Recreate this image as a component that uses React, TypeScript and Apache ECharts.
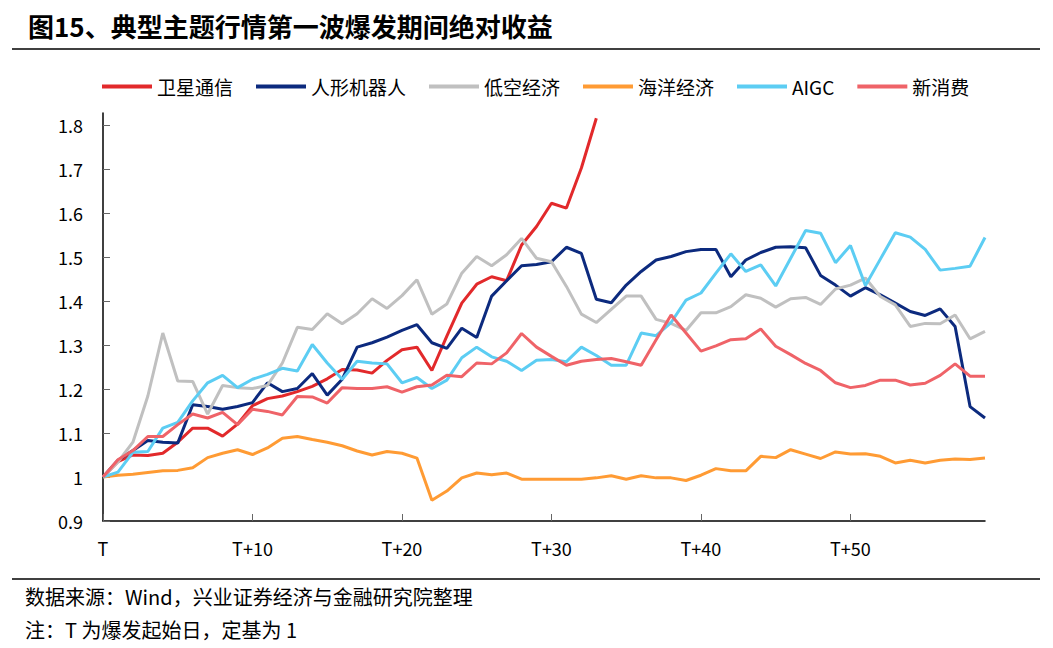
import React, { useEffect, useRef } from "react";
import * as echarts from "echarts";

const categories: string[] = Array.from({ length: 60 }, (_, i) => (i === 0 ? "T" : "T+" + i));

const weixing: (number | null)[] = [
  1.0, 1.035, 1.05, 1.049, 1.054, 1.079, 1.111, 1.111, 1.093, 1.12, 1.162, 1.178, 1.184, 1.194, 1.206,
  1.223, 1.244, 1.243, 1.236, 1.265, 1.289, 1.295, 1.242, 1.32, 1.395, 1.438, 1.455, 1.446, 1.527,
  1.569, 1.622, 1.611, 1.702, 1.815,
];
const renxing: number[] = [
  1.0, 1.038, 1.06, 1.083, 1.079, 1.077, 1.164, 1.16, 1.154, 1.16, 1.169, 1.214, 1.194, 1.201, 1.235,
  1.186, 1.222, 1.295, 1.305, 1.318, 1.333, 1.346, 1.305, 1.292, 1.338, 1.317, 1.411, 1.446, 1.48,
  1.483, 1.489, 1.522, 1.508, 1.404, 1.396, 1.436, 1.467, 1.493, 1.501, 1.512, 1.517, 1.517, 1.455,
  1.493, 1.51, 1.522, 1.523, 1.521, 1.458, 1.436, 1.411, 1.43, 1.414, 1.395, 1.376, 1.367, 1.382,
  1.342, 1.16, 1.134,
];
const dikong: number[] = [
  1.0, 1.034, 1.079, 1.184, 1.327, 1.218, 1.217, 1.143, 1.208, 1.203, 1.201, 1.208, 1.259, 1.34, 1.335,
  1.371, 1.348, 1.371, 1.405, 1.383, 1.412, 1.448, 1.37, 1.393, 1.463, 1.501, 1.48, 1.505, 1.542,
  1.497, 1.489, 1.433, 1.37, 1.351, 1.381, 1.411, 1.411, 1.358, 1.349, 1.333, 1.373, 1.373, 1.387,
  1.414, 1.406, 1.386, 1.405, 1.408, 1.392, 1.427, 1.436, 1.452, 1.41, 1.391, 1.342, 1.349, 1.348,
  1.368, 1.314, 1.331,
];
const haiyang: number[] = [
  1.0, 1.004, 1.006, 1.01, 1.014, 1.015, 1.021, 1.044, 1.054, 1.062, 1.051, 1.066, 1.088, 1.092, 1.085,
  1.079, 1.071, 1.059, 1.05, 1.058, 1.054, 1.043, 0.947, 0.968, 0.998, 1.009, 1.005, 1.009, 0.995,
  0.995, 0.995, 0.995, 0.995, 0.998, 1.003, 0.995, 1.003, 0.998, 0.998, 0.992, 1.004, 1.019, 1.014,
  1.014, 1.047, 1.044, 1.062, 1.052, 1.042, 1.057, 1.052, 1.053, 1.047, 1.032, 1.038, 1.032, 1.038,
  1.041, 1.04, 1.043,
];
const aigc: number[] = [
  1.0, 1.011, 1.056, 1.058, 1.111, 1.124, 1.173, 1.214, 1.231, 1.203, 1.222, 1.233, 1.247, 1.241, 1.301,
  1.259, 1.222, 1.263, 1.259, 1.257, 1.214, 1.226, 1.201, 1.22, 1.271, 1.295, 1.273, 1.263, 1.242,
  1.265, 1.267, 1.262, 1.295, 1.276, 1.254, 1.254, 1.327, 1.321, 1.351, 1.402, 1.418, 1.463, 1.507,
  1.467, 1.482, 1.434, 1.497, 1.56, 1.554, 1.487, 1.526, 1.435, 1.495, 1.555, 1.545, 1.517, 1.47,
  1.474, 1.479, 1.544,
];
const xinxiaofei: number[] = [
  1.0, 1.039, 1.06, 1.092, 1.092, 1.119, 1.143, 1.134, 1.147, 1.119, 1.154, 1.149, 1.141, 1.183, 1.182,
  1.168, 1.203, 1.201, 1.201, 1.205, 1.193, 1.205, 1.209, 1.231, 1.228, 1.259, 1.257, 1.282, 1.326,
  1.295, 1.274, 1.254, 1.263, 1.267, 1.269, 1.262, 1.254, 1.312, 1.368, 1.327, 1.286, 1.298, 1.312,
  1.314, 1.336, 1.297, 1.278, 1.258, 1.242, 1.214, 1.203, 1.208, 1.22, 1.22, 1.209, 1.213, 1.231,
  1.257, 1.229, 1.229,
];

const yTicks: number[] = [0.9, 1.0, 1.1, 1.2, 1.3, 1.4, 1.5, 1.6, 1.7, 1.8];
const yTickLabels: string[] = ["0.9", "1", "1.1", "1.2", "1.3", "1.4", "1.5", "1.6", "1.7", "1.8"];

const seriesNames = ["卫星通信", "人形机器人", "低空经济", "海洋经济", "AIGC", "新消费"];
const seriesColors = ["#E2292B", "#0C2A7E", "#C0C0C0", "#FF9B34", "#5CCDF3", "#EF6368"];
const seriesData = [weixing, renxing, dikong, haiyang, aigc, xinxiaofei];

const FONT = "'Noto Sans CJK SC', 'Noto Sans', sans-serif";

export default function App() {
  const ref = useRef<HTMLDivElement>(null);
  useEffect(() => {
    if (!ref.current) return;
    const chart = echarts.init(ref.current, undefined, { renderer: "svg" });
    chart.setOption({
      animation: false,
      backgroundColor: "#ffffff",
      textStyle: { fontFamily: FONT },
      legend: {
        left: 97,
        top: 72,
        itemWidth: 50,
        itemHeight: 4,
        itemGap: 23,
        icon: "rect",
        textStyle: { fontSize: 19, color: "#000", fontFamily: FONT },
        data: seriesNames,
      },
      grid: { left: 103, right: 68, top: 113, bottom: 127, containLabel: false },
      xAxis: {
        type: "category",
        data: categories,
        boundaryGap: false,
        axisLine: { lineStyle: { color: "#000", width: 1.5 } },
        axisTick: {
          inside: true,
          length: 7,
          interval: (i: number) => i % 10 === 0,
          lineStyle: { color: "#666" },
        },
        axisLabel: {
          interval: (i: number) => i % 10 === 0,
          margin: 18,
          fontSize: 18,
          color: "#000",
          fontFamily: FONT,
        },
        splitLine: { show: false },
      },
      yAxis: {
        type: "value",
        min: 0.9,
        max: 1.827,
        interval: 0.1,
        axisLine: { show: true, lineStyle: { color: "#000", width: 1.5 } },
        axisTick: {
          show: true,
          inside: true,
          length: 7,
          customValues: yTicks,
          lineStyle: { color: "#666" },
        },
        axisLabel: {
          customValues: yTicks,
          formatter: (v: number) => {
            const idx = yTicks.findIndex((t) => Math.abs(t - v) < 1e-6);
            return idx >= 0 ? yTickLabels[idx] : "";
          },
          margin: 20,
          fontSize: 18,
          color: "#000",
          fontFamily: FONT,
        },
        splitLine: { show: false },
      },
      series: seriesNames.map((name, k) => ({
        name,
        type: "line",
        data: seriesData[k],
        showSymbol: false,
        symbol: "none",
        connectNulls: false,
        lineStyle: { color: seriesColors[k], width: 3 },
        itemStyle: { color: seriesColors[k] },
        z: 2 + k,
      })),
      graphic: [
        {
          type: "text",
          left: 28,
          top: 12,
          style: {
            text: "图15、典型主题行情第一波爆发期间绝对收益",
            fontSize: 26,
            fontWeight: "bold",
            fill: "#000",
            fontFamily: FONT,
          },
        },
        {
          type: "line",
          shape: { x1: 12, y1: 49, x2: 1040, y2: 49 },
          style: { stroke: "#000", lineWidth: 1.5 },
        },
        {
          type: "line",
          shape: { x1: 12, y1: 579, x2: 1040, y2: 579 },
          style: { stroke: "#000", lineWidth: 1.5 },
        },
        {
          type: "text",
          left: 25,
          top: 586,
          style: {
            text: "数据来源：Wind，兴业证券经济与金融研究院整理",
            fontSize: 20,
            fill: "#000",
            fontFamily: FONT,
          },
        },
        {
          type: "text",
          left: 25,
          top: 619,
          style: {
            text: "注：T 为爆发起始日，定基为 1",
            fontSize: 20,
            fill: "#000",
            fontFamily: FONT,
          },
        },
      ],
    });
    return () => chart.dispose();
  }, []);
  return (
    <div
      ref={ref}
      style={{ position: "fixed", left: 0, top: 0, width: 1053, height: 648, background: "#fff" }}
    />
  );
}
